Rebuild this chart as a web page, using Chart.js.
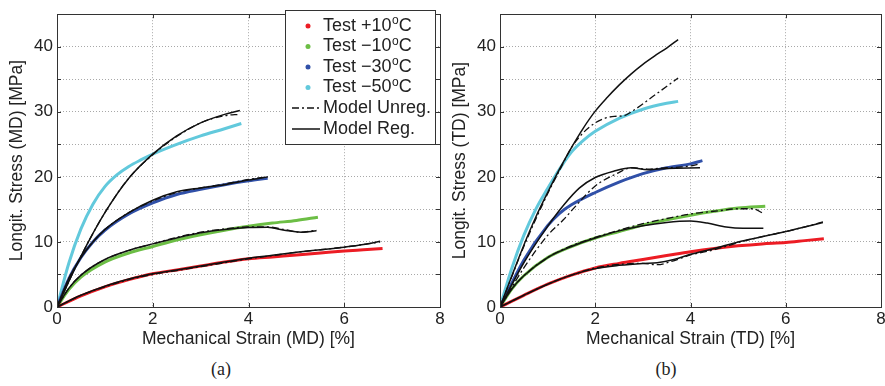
<!DOCTYPE html>
<html>
<head>
<meta charset="utf-8">
<script src="https://cdn.jsdelivr.net/npm/chart.js@4"></script>
<style>
  html, body { margin:0; padding:0; background:#fff; overflow:hidden; width:885px; height:386px; }
  canvas { position:absolute; top:0; }
  .cap { position:absolute; top:359px; width:60px; margin-left:-30px; text-align:center; font:18px "Liberation Serif", serif; color:#222; }
</style>
</head>
<body>
<canvas id="mdChart" width="455" height="350" style="left:0"></canvas>
<canvas id="tdChart" width="455" height="350" style="left:443px"></canvas>
<div class="cap" style="left:221px">(a)</div>
<div class="cap" style="left:666px">(b)</div>
<script>
/* axis ticks */
const xTicks = [0, 2, 4, 6, 8];
const yTicks = [0, 5, 10, 15, 20, 25, 30, 35, 40, 45];
const yLabels = [0, 10, 20, 30, 40];

/* legend */
const tempLabels = ["+10", "\u221210", "\u221230", "\u221250"];
const testColors = ["#ec1c24", "#6cbe45", "#3050a8", "#62c9dc"];

/* MD panel: [strain %, stress MPa] */
const mdTest10 = [[0,0],[0.5,1.7],[1,3.1],[1.5,4.2],[2,5.1],[2.5,5.7],[3,6.3],[3.5,6.9],[4,7.4],[4.5,7.7],[5,8.0],[5.5,8.3],[6,8.6],[6.4,8.8],[6.8,9.0]];
const mdUnreg10 = [[0,0],[0.5,1.8],[1,3.1],[1.5,4.2],[2,5.0],[2.5,5.6],[3,6.2],[3.5,6.8],[4,7.4],[4.5,7.9],[5,8.4],[5.5,8.8],[6,9.2],[6.4,9.6],[6.75,10.0]];
const mdReg10 = [[0,0],[0.5,1.8],[1,3.2],[1.5,4.3],[2,5.1],[2.5,5.7],[3,6.3],[3.5,6.9],[4,7.5],[4.5,7.95],[5,8.4],[5.5,8.8],[6,9.2],[6.4,9.6],[6.75,10.1]];

const mdTestM10 = [[0,0],[0.25,2.7],[0.5,4.6],[1,6.9],[1.5,8.3],[2,9.3],[2.5,10.3],[3,11.1],[3.5,11.8],[4,12.4],[4.5,12.9],[5,13.3],[5.45,13.8]];
const mdUnregM10 = [[0,0],[0.25,2.9],[0.5,4.9],[1,7.3],[1.5,8.7],[2,9.7],[2.5,10.7],[3,11.5],[3.5,12.0],[4,12.3],[4.4,12.3],[4.75,11.9],[5.1,11.5],[5.42,11.8]];
const mdRegM10 = [[0,0],[0.25,2.9],[0.5,4.9],[1,7.3],[1.5,8.7],[2,9.7],[2.5,10.6],[3,11.4],[3.5,11.9],[4,12.2],[4.4,12.25],[4.75,11.8],[5.1,11.5],[5.42,11.7]];

const mdTestM30 = [[0,0],[0.25,4.4],[0.5,7.6],[0.75,10.0],[1,11.8],[1.5,14.3],[2,16.0],[2.5,17.3],[3,18.1],[3.5,18.8],[4,19.4],[4.4,19.8]];
const mdUnregM30 = [[0,0],[0.25,4.4],[0.5,7.6],[0.75,10.0],[1,11.9],[1.5,14.5],[2,16.3],[2.5,17.6],[3,18.3],[3.5,18.9],[4,19.6],[4.4,20.0]];
const mdRegM30 = [[0,0],[0.25,4.4],[0.5,7.6],[0.75,10.0],[1,11.9],[1.5,14.5],[2,16.4],[2.5,17.7],[3,18.3],[3.5,18.8],[4,19.5],[4.4,20.0]];

const mdTestM50 = [[0,0],[0.25,6.8],[0.5,12.0],[0.75,15.8],[1,18.5],[1.25,20.3],[1.5,21.6],[1.75,22.6],[2,23.5],[2.5,25.0],[3,26.3],[3.5,27.4],[3.85,28.2]];
const mdUnregM50 = [[0,0],[0.5,7.8],[1,14.5],[1.5,19.8],[2,23.4],[2.5,26.2],[3,28.3],[3.5,29.4],[3.82,29.6]];
const mdRegM50 = [[0,0],[0.5,7.8],[1,14.5],[1.5,19.8],[2,23.5],[2.5,26.3],[3,28.3],[3.5,29.6],[3.82,30.2]];

/* TD panel */
const tdTest10 = [[0,0],[0.5,1.8],[1,3.5],[1.5,4.9],[2,6.0],[2.5,6.7],[3,7.3],[3.5,7.9],[4,8.5],[4.5,9.0],[5,9.4],[5.5,9.7],[6,9.9],[6.4,10.2],[6.8,10.5]];
const tdUnreg10 = [[0,0],[0.5,1.8],[1,3.5],[1.5,4.9],[2,6.0],[2.6,6.6],[3.0,6.7],[3.3,6.5],[3.6,7.0],[4,8.0],[4.5,8.8],[5,9.9],[5.5,10.8],[6,11.6],[6.4,12.3],[6.78,13.1]];
const tdReg10 = [[0,0],[0.5,1.8],[1,3.5],[1.5,4.9],[2,5.9],[2.5,6.4],[3,6.7],[3.3,6.8],[3.65,7.3],[4,8.1],[4.5,9.0],[5,10.0],[5.5,10.8],[6,11.6],[6.4,12.3],[6.78,13.0]];

const tdTestM10 = [[0,0],[0.25,2.8],[0.5,4.8],[1,7.6],[1.5,9.3],[2,10.6],[2.5,11.6],[3,12.6],[3.5,13.4],[4,14.1],[4.5,14.7],[5,15.2],[5.57,15.5]];
const tdUnregM10 = [[0,0],[0.25,2.8],[0.5,4.8],[1,7.6],[1.5,9.4],[2,10.7],[2.5,11.8],[3,12.8],[3.5,13.6],[4,14.3],[4.6,14.8],[5,15.1],[5.3,15.1],[5.53,14.4]];
const tdRegM10 = [[0,0],[0.25,2.8],[0.5,4.8],[1,7.6],[1.5,9.3],[2,10.6],[2.5,11.7],[3,12.5],[3.5,13.0],[4,13.2],[4.35,12.9],[4.75,12.3],[5.1,12.1],[5.53,12.1]];

const tdTestM30 = [[0,0],[0.5,7.2],[1,12.5],[1.25,14.4],[1.5,15.7],[2,17.6],[2.5,19.2],[3,20.5],[3.5,21.4],[4,22.0],[4.25,22.5]];
const tdUnregM30 = [[0,0],[0.5,6.0],[1,11.0],[1.33,13.4],[1.6,15.6],[2,18.6],[2.45,20.5],[2.76,21.4],[3.1,21.2],[3.5,21.4],[3.93,21.6],[4.2,22.0]];
const tdRegM30 = [[0,0],[0.5,6.8],[1,12.4],[1.33,15.6],[1.67,18.3],[2,19.9],[2.4,20.9],[2.76,21.4],[3.1,21.1],[3.5,21.3],[4.2,21.4]];

const tdTestM50 = [[0,0],[0.25,6.0],[0.5,11.0],[0.75,15.0],[1,18.2],[1.25,21.2],[1.5,23.8],[1.75,25.6],[2,27.0],[2.5,29.0],[3,30.4],[3.5,31.3],[3.74,31.6]];
const tdUnregM50 = [[0,0],[0.5,9.3],[1,17.4],[1.25,21.0],[1.5,24.5],[1.75,26.8],[2,28.3],[2.2,29.0],[2.4,29.3],[2.6,29.4],[2.8,30.2],[3.2,32.3],[3.74,35.2]];
const tdRegM50 = [[0,0],[0.25,4.8],[0.5,9.5],[0.75,13.8],[1,17.6],[1.25,21.2],[1.5,24.5],[1.75,27.5],[2,30.1],[2.25,32.2],[2.5,34.1],[2.75,35.8],[3,37.3],[3.25,38.6],[3.5,39.8],[3.74,41.1]];

const mdCurves = [[mdTest10, mdUnreg10, mdReg10], [mdTestM10, mdUnregM10, mdRegM10],
                  [mdTestM30, mdUnregM30, mdRegM30], [mdTestM50, mdUnregM50, mdRegM50]];
const tdCurves = [[tdTest10, tdUnreg10, tdReg10], [tdTestM10, tdUnregM10, tdRegM10],
                  [tdTestM30, tdUnregM30, tdRegM30], [tdTestM50, tdUnregM50, tdRegM50]];

const FONT = "'Liberation Sans', Arial, sans-serif";
const dashDot = [7, 3, 2, 3];
Chart.defaults.color = "#222";
Chart.defaults.font.family = FONT;

const pts = arr => arr.map(p => ({x: p[0], y: p[1]}));

function buildSets(curves) {
  const sets = [];
  curves.forEach((c, i) => {
    sets.push({label: "Test " + tempLabels[i], data: pts(c[0]), borderColor: testColors[i], borderWidth: 3, order: 3});
    sets.push({label: "Model Unreg.", data: pts(c[1]), borderColor: "#111", borderWidth: 1.3, borderDash: dashDot, order: 2});
    sets.push({label: "Model Reg.", data: pts(c[2]), borderColor: "#111", borderWidth: 1.5, order: 1});
  });
  return sets;
}

/* matlab style frame, inward ticks and legend box */
const framePlugin = {
  id: "frame",
  afterDraw(chart, args, opts) {
    const ctx = chart.ctx, a = chart.chartArea;
    const xs = chart.scales.x, ys = chart.scales.y;
    ctx.save();
    ctx.strokeStyle = "#333";
    ctx.lineWidth = 1;
    ctx.setLineDash([]);
    ctx.strokeRect(Math.round(a.left) + 0.5, Math.round(a.top) + 0.5, Math.round(a.right - a.left), Math.round(a.bottom - a.top));
    ctx.beginPath();
    xTicks.forEach(v => {
      const px = Math.round(xs.getPixelForValue(v)) + 0.5;
      ctx.moveTo(px, a.bottom); ctx.lineTo(px, a.bottom - 4);
      ctx.moveTo(px, a.top); ctx.lineTo(px, a.top + 4);
    });
    yTicks.forEach(v => {
      const py = Math.round(ys.getPixelForValue(v)) + 0.5;
      ctx.moveTo(a.left, py); ctx.lineTo(a.left + 4, py);
      ctx.moveTo(a.right, py); ctx.lineTo(a.right - 4, py);
    });
    ctx.stroke();

    if (opts.legend) {
      const bx = 285, by = 10, bw = 150, bh = 134;
      ctx.fillStyle = "#fff";
      ctx.fillRect(bx, by, bw, bh);
      ctx.strokeStyle = "#333";
      ctx.strokeRect(bx + 0.5, by + 0.5, bw, bh);
      const rows = [26, 46.5, 67, 87.5, 108, 129];
      const tx = 323;
      ctx.textBaseline = "middle";
      tempLabels.forEach((t, i) => {
        ctx.fillStyle = testColors[i];
        ctx.beginPath();
        ctx.arc(308, rows[i], 2.5, 0, Math.PI * 2);
        ctx.fill();
        ctx.fillStyle = "#222";
        ctx.font = "18px " + FONT;
        const s = "Test " + t;
        ctx.fillText(s, tx, rows[i]);
        let w = ctx.measureText(s).width;
        ctx.font = "12px " + FONT;
        ctx.fillText("o", tx + w + 0.5, rows[i] - 5);
        w += ctx.measureText("o").width + 0.5;
        ctx.font = "18px " + FONT;
        ctx.fillText("C", tx + w, rows[i]);
      });
      ctx.strokeStyle = "#111";
      ctx.lineWidth = 1.3;
      ctx.setLineDash(dashDot);
      ctx.beginPath(); ctx.moveTo(292, rows[4]); ctx.lineTo(320, rows[4]); ctx.stroke();
      ctx.setLineDash([]);
      ctx.lineWidth = 1.5;
      ctx.beginPath(); ctx.moveTo(292, rows[5]); ctx.lineTo(320, rows[5]); ctx.stroke();
      ctx.fillStyle = "#222";
      ctx.font = "18px " + FONT;
      ctx.fillText("Model Unreg.", tx, rows[4]);
      ctx.fillText("Model Reg.", tx, rows[5]);
    }
    ctx.restore();
  }
};

function makeChart(id, curves, xTitle, yTitle, padTop, padRight, legend) {
  return new Chart(document.getElementById(id), {
    type: "line",
    data: {datasets: buildSets(curves)},
    plugins: [framePlugin],
    options: {
      responsive: false,
      animation: false,
      parsing: false,
      layout: {padding: {left: 0, top: padTop, right: padRight, bottom: 0}},
      elements: {
        point: {radius: 0},
        line: {cubicInterpolationMode: "monotone", fill: false}
      },
      plugins: {
        legend: {display: false},
        tooltip: {enabled: false},
        frame: {legend: legend}
      },
      scales: {
        x: {
          type: "linear", min: 0, max: 8,
          afterBuildTicks: s => { s.ticks = xTicks.map(v => ({value: v})); },
          afterFit: s => { s.height = 43; },
          ticks: {font: {size: 17}, padding: 2, color: "#222", maxRotation: 0},
          grid: {color: "#a8a8a8", lineWidth: 1, drawTicks: false},
          border: {display: false, dash: [1, 2]},
          title: {display: true, text: xTitle, font: {size: 17.5}, color: "#222", padding: {top: 0, bottom: 0}}
        },
        y: {
          type: "linear", min: 0, max: 45,
          afterBuildTicks: s => { s.ticks = yTicks.map(v => ({value: v})); },
          afterFit: s => { s.width = 57; },
          ticks: {font: {size: 17}, padding: 4, color: "#222", autoSkip: false,
                  callback: v => yLabels.includes(v) ? String(v) : ""},
          grid: {color: "#a8a8a8", lineWidth: 1, drawTicks: false},
          border: {display: false, dash: [1, 2]},
          title: {display: true, text: yTitle, font: {size: 17.5}, color: "#222", padding: {top: 7, bottom: 0}}
        }
      }
    }
  });
}

makeChart("mdChart", mdCurves, "Mechanical Strain (MD) [%]", "Longit. Stress (MD) [MPa]", 7, 15, true);
makeChart("tdChart", tdCurves, "Mechanical Strain (TD) [%]", "Longit. Stress (TD) [MPa]", 8, 17, false);
</script>
</body>
</html>
